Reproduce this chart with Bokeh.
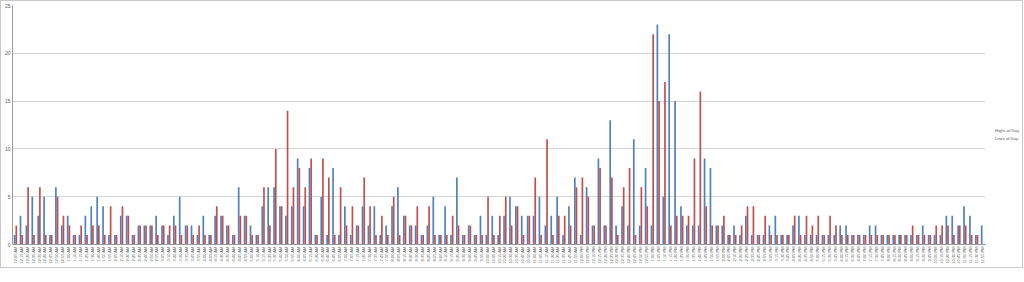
from math import pi
from bokeh.plotting import figure
from bokeh.layouts import row
from bokeh.models import ColumnDataSource, FactorRange, Legend, LegendItem, FixedTicker, Range1d
from bokeh.transform import dodge
from bokeh.embed import file_html
from bokeh.resources import INLINE

times = [
    "12:05 AM", "12:15 AM", "12:20 AM", "12:25 AM", "12:30 AM", "12:40 AM", "12:45 AM", "12:50 AM", "12:55 AM",
    "1:00 AM", "1:10 AM", "1:15 AM", "1:25 AM", "1:30 AM", "1:40 AM", "1:50 AM", "1:55 AM",
    "2:05 AM", "2:10 AM", "2:20 AM", "2:25 AM", "2:35 AM", "2:40 AM", "2:50 AM", "2:55 AM",
    "3:05 AM", "3:10 AM", "3:20 AM", "3:30 AM", "3:35 AM", "3:45 AM", "3:55 AM",
    "4:00 AM", "4:05 AM", "4:15 AM", "4:20 AM", "4:30 AM", "4:40 AM", "4:45 AM", "4:55 AM",
    "5:00 AM", "5:10 AM", "5:15 AM", "5:25 AM", "5:30 AM", "5:40 AM", "5:50 AM", "5:55 AM",
    "6:00 AM", "6:05 AM", "6:15 AM", "6:20 AM", "6:30 AM", "6:40 AM", "6:45 AM", "6:55 AM",
    "7:00 AM", "7:05 AM", "7:15 AM", "7:20 AM", "7:30 AM", "7:35 AM", "7:45 AM", "7:50 AM",
    "8:00 AM", "8:05 AM", "8:15 AM", "8:20 AM", "8:30 AM", "8:35 AM", "8:45 AM", "8:55 AM",
    "9:00 AM", "9:10 AM", "9:15 AM", "9:25 AM", "9:30 AM", "9:40 AM", "9:45 AM", "9:55 AM",
    "10:00 AM", "10:05 AM", "10:15 AM", "10:20 AM", "10:30 AM", "10:35 AM", "10:40 AM", "10:50 AM",
    "11:00 AM", "11:05 AM", "11:10 AM", "11:20 AM", "11:25 AM", "11:35 AM", "11:45 AM", "11:55 AM",
    "12:00 PM", "12:05 PM", "12:10 PM", "12:15 PM", "12:20 PM", "12:25 PM", "12:30 PM", "12:35 PM",
    "12:40 PM", "12:45 PM", "12:50 PM", "12:55 PM",
    "1:00 PM", "1:05 PM", "1:10 PM", "1:15 PM", "1:20 PM", "1:25 PM", "1:30 PM", "1:35 PM",
    "1:40 PM", "1:45 PM", "1:50 PM", "1:55 PM",
    "2:00 PM", "2:05 PM", "2:10 PM", "2:20 PM", "2:25 PM", "2:35 PM", "2:45 PM", "2:55 PM",
    "3:05 PM", "3:15 PM", "3:30 PM", "3:45 PM",
    "4:05 PM", "4:20 PM", "4:35 PM", "4:50 PM",
    "5:00 PM", "5:15 PM", "5:30 PM", "5:45 PM",
    "6:00 PM", "6:15 PM", "6:30 PM", "6:45 PM",
    "7:00 PM", "7:15 PM", "7:30 PM", "7:45 PM",
    "8:00 PM", "8:15 PM", "8:30 PM", "8:45 PM",
    "9:00 PM", "9:15 PM", "9:30 PM", "9:45 PM",
    "10:00 PM", "10:10 PM", "10:20 PM", "10:30 PM", "10:45 PM",
    "11:00 PM", "11:15 PM", "11:30 PM", "11:55 PM",
]

highs = [
    1, 3, 2, 5, 3, 5, 1, 6, 2, 3, 1, 1, 3, 4, 5, 4, 1, 1, 3, 3, 1, 2, 2, 2, 3, 2, 1, 3, 5, 2, 2, 1,
    3, 1, 3, 3, 2, 1, 6, 3, 2, 1, 4, 6, 6, 4, 3, 4, 9, 4, 8, 1, 5, 1, 8, 1, 4, 1, 2, 4, 2, 4, 1, 2,
    4, 6, 3, 2, 2, 1, 2, 5, 1, 4, 1, 7, 1, 2, 1, 3, 1, 3, 1, 3, 5, 4, 3, 3, 3, 5, 2, 3, 5, 1, 4, 7,
    1, 6, 2, 9, 2, 13, 2, 4, 2, 11, 2, 8, 2, 23, 5, 22, 15, 4, 2, 2, 2, 9, 8, 2, 2, 1, 2, 1, 3, 1, 1, 1,
    2, 3, 1, 1, 2, 3, 1, 1, 1, 1, 1, 1, 2, 2, 1, 1, 1, 2, 2, 1, 1, 1, 1, 1, 1, 1, 2, 1, 1, 1, 3, 3, 2, 4, 3, 1, 2,
]

lows = [
    2, 1, 6, 1, 6, 1, 1, 5, 3, 2, 1, 2, 1, 2, 2, 1, 4, 1, 4, 3, 1, 2, 2, 2, 1, 2, 2, 2, 1, 2, 1, 2,
    1, 1, 4, 3, 2, 1, 3, 3, 1, 1, 6, 2, 10, 4, 14, 6, 8, 6, 9, 1, 9, 7, 1, 6, 2, 4, 2, 7, 4, 1, 3, 1,
    5, 1, 3, 2, 4, 1, 4, 1, 1, 1, 3, 2, 1, 2, 1, 1, 5, 1, 3, 5, 2, 4, 1, 3, 7, 1, 11, 1, 3, 3, 2, 6,
    7, 5, 2, 8, 2, 7, 1, 6, 8, 1, 6, 4, 22, 15, 17, 2, 3, 3, 3, 9, 16, 4, 2, 2, 3, 1, 1, 2, 4, 4, 1, 3,
    1, 1, 1, 1, 3, 1, 3, 2, 3, 1, 3, 2, 1, 1, 1, 1, 1, 1, 1, 1, 1, 1, 1, 1, 2, 1, 1, 1, 2, 2, 2, 1, 2, 2, 1, 1, 0,
]

y_ticks = [0, 5, 10, 15, 20, 25]
series_names = ["Highs of Day", "Lows of Day"]
series_colors = ["#4F81BD", "#C0504D"]

src = ColumnDataSource(dict(t=times, highs=highs, lows=lows))

p = figure(
    x_range=FactorRange(factors=times, range_padding=0),
    y_range=(0, 25),
    width=985, height=266,
    output_backend="svg", toolbar_location=None,
    min_border_left=11, min_border_right=1, min_border_top=4, min_border_bottom=23,
)

p.vbar(x=dodge("t", -0.143, range=p.x_range), top="highs", width=0.286,
       source=src, fill_color=series_colors[0], line_color=None)
p.vbar(x=dodge("t", 0.143, range=p.x_range), top="lows", width=0.286,
       source=src, fill_color=series_colors[1], line_color=None)

p.outline_line_color = None
p.xgrid.grid_line_color = None
p.ygrid.grid_line_color = "#d4d4d4"
p.ygrid.grid_line_width = 1.2

p.yaxis.ticker = FixedTicker(ticks=y_ticks)
p.yaxis.major_label_text_font = "Liberation Sans"
p.yaxis.major_label_text_font_size = "5px"
p.yaxis.major_label_text_color = "#595959"
p.yaxis.axis_line_color = "#9a9a9a"
p.yaxis.major_tick_out = 0
p.yaxis.major_tick_in = 0
p.yaxis.minor_tick_line_color = None
p.yaxis.major_label_standoff = 2

p.xaxis.major_label_orientation = pi / 2
p.xaxis.major_label_text_font = "Liberation Sans"
p.xaxis.major_label_text_font_size = "4px"
p.xaxis.major_label_text_color = "#595959"
p.xaxis.axis_line_color = "#9a9a9a"
p.xaxis.major_tick_out = 0
p.xaxis.major_tick_in = 0
p.xaxis.major_label_standoff = 2

# legend panel
q = figure(
    width=36, height=266, x_range=Range1d(0, 36), y_range=Range1d(0, 266),
    x_axis_type=None, y_axis_type=None,
    output_backend="svg", toolbar_location=None,
    min_border=0, outline_line_color=None,
)
d1 = q.vbar(x=[], top=[], width=1, fill_color=series_colors[0], line_color=None)
d2 = q.vbar(x=[], top=[], width=1, fill_color=series_colors[1], line_color=None)

legend = Legend(
    items=[LegendItem(label=series_names[0], renderers=[d1]),
           LegendItem(label=series_names[1], renderers=[d2])],
    location=(5, 103),
    label_text_font="Liberation Sans", label_text_font_size="4.2px", label_text_color="#595959",
    glyph_width=3, glyph_height=3, label_height=6, label_standoff=1, spacing=2,
    padding=0, margin=0, border_line_color=None, background_fill_alpha=0,
)
q.add_layout(legend)

layout = row(p, q, styles={"border": "1px solid #c8c8c8"})

open("out.html", "w").write(file_html(layout, INLINE))
